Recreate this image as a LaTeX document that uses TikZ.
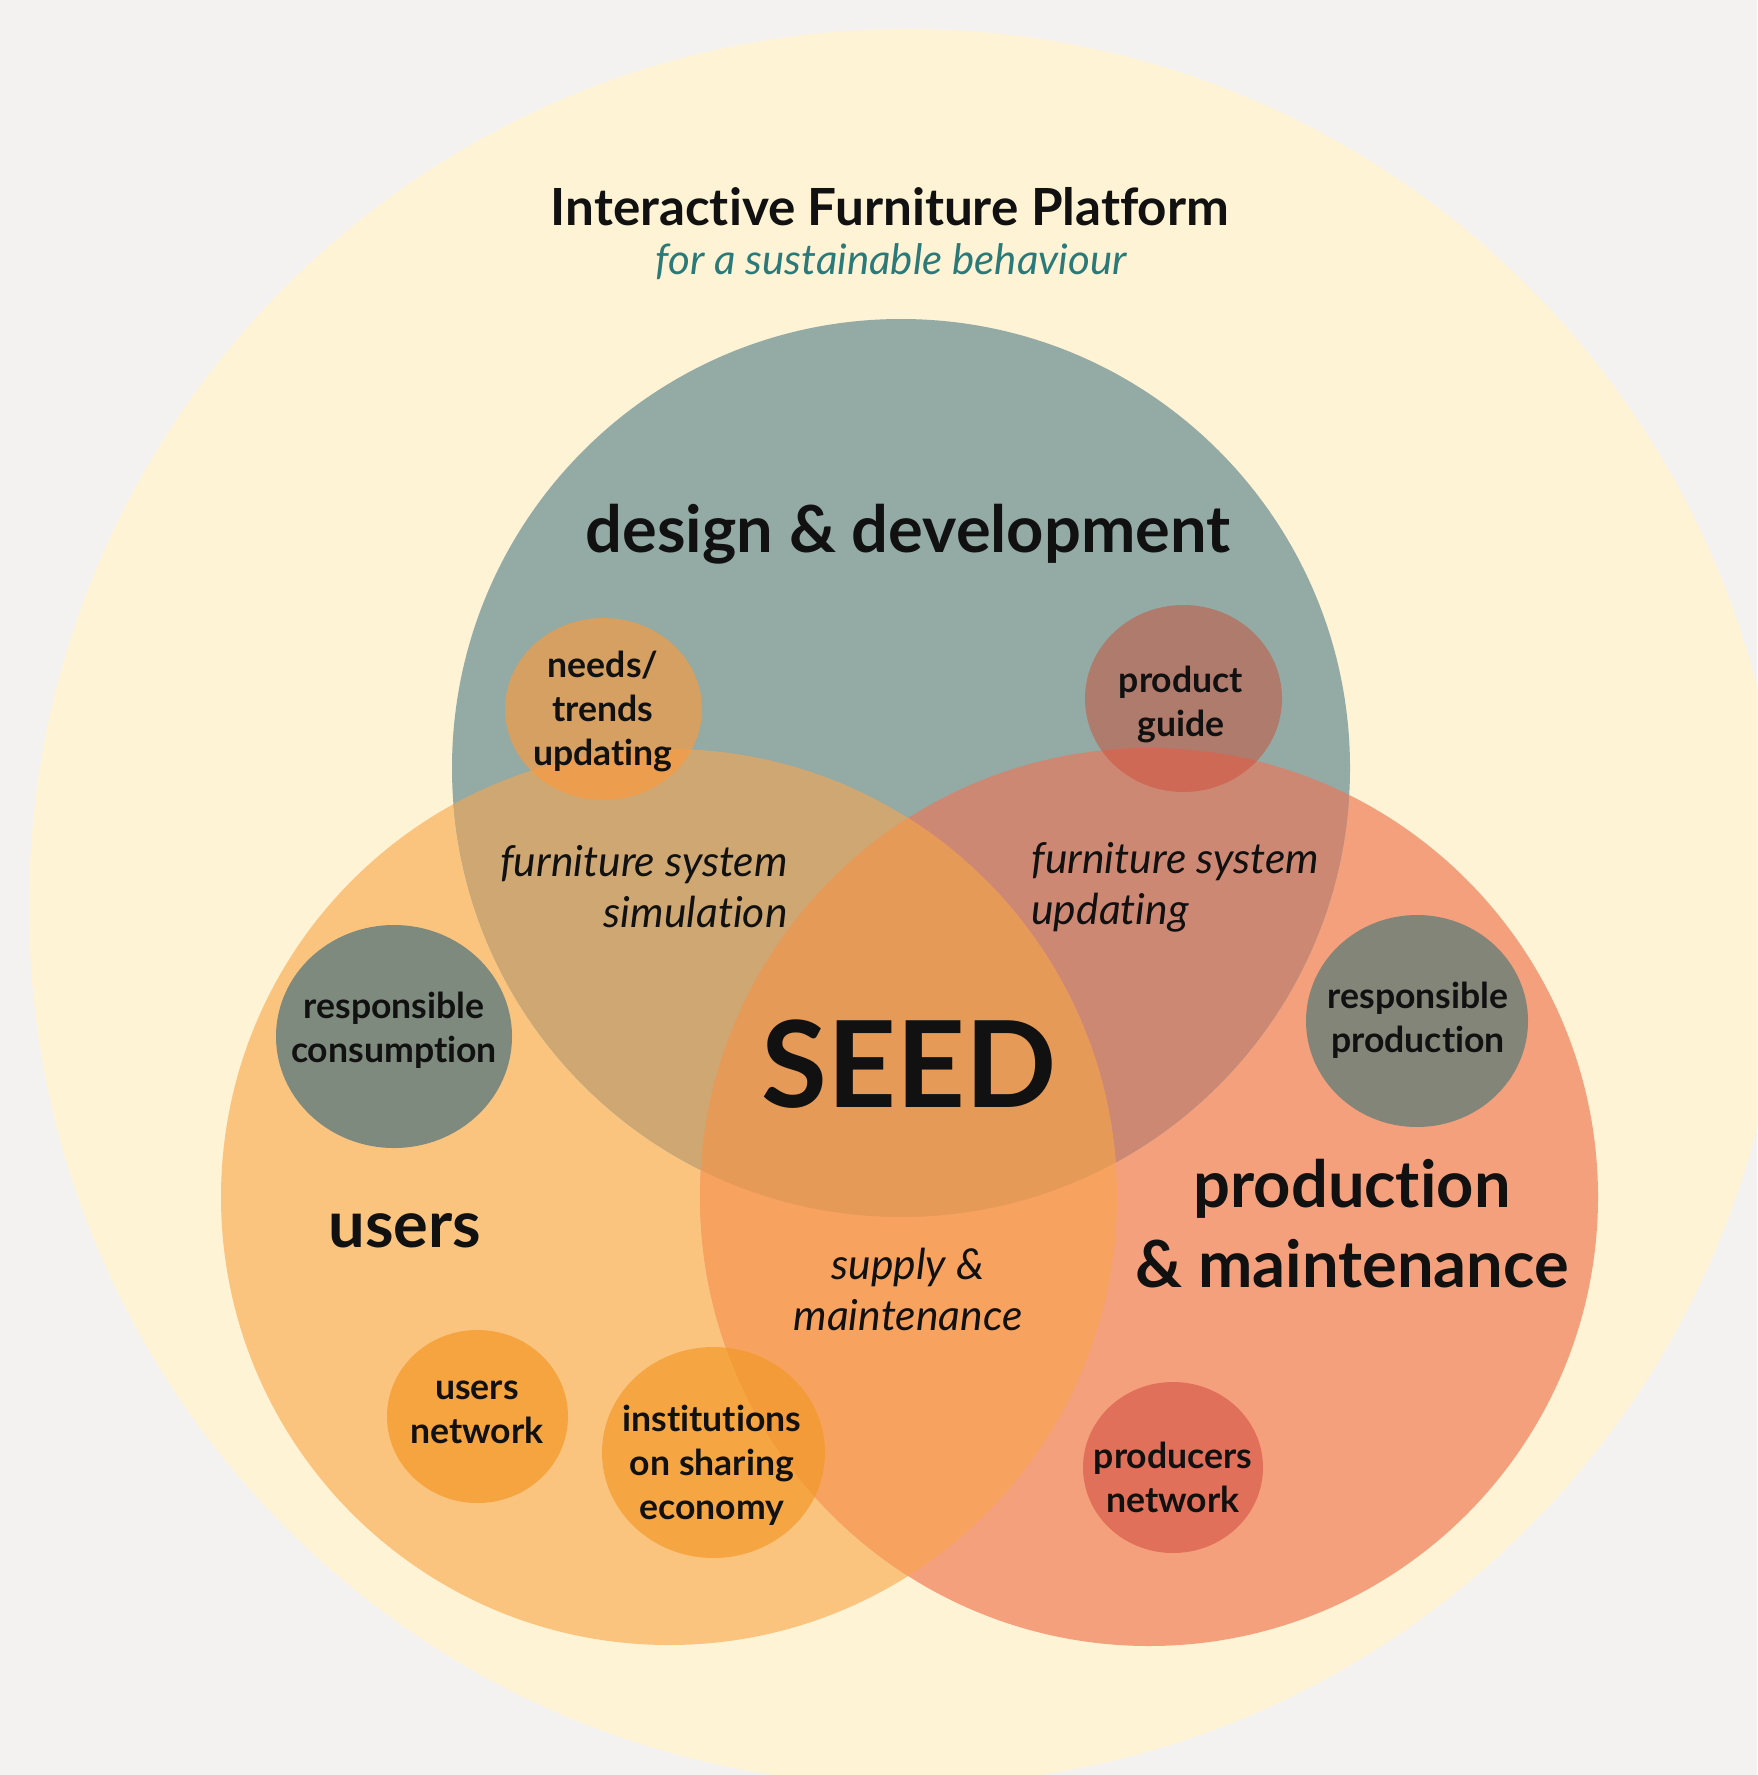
\documentclass[tikz,border=0pt]{standalone}
\usepackage{fontspec}
\setmainfont{Lato}[Ligatures=NoCommon]
\begin{document}
\begin{tikzpicture}[x=0.5pt,y=-0.5pt]
% palette
\definecolor{bg}{HTML}{F3F2F0}
\definecolor{cream}{HTML}{FFF3D6}
\definecolor{teal}{HTML}{93AAA5}
\definecolor{usr}{HTML}{FAC47F}
\definecolor{prod}{HTML}{F5A07C}
\definecolor{tu}{HTML}{CFA772}
\definecolor{tp}{HTML}{CD8874}
\definecolor{up}{HTML}{F7A25F}
\definecolor{tup}{HTML}{E69A58}
\definecolor{needsc}{HTML}{FF9A39}
\definecolor{guidec}{HTML}{CF4832}
\definecolor{instc}{HTML}{F49929}
\definecolor{consc}{HTML}{7D8A7D}
\definecolor{prodc}{HTML}{848579}
\definecolor{unetc}{HTML}{F6A440}
\definecolor{pnetc}{HTML}{E0705A}
\definecolor{ink}{HTML}{111111}
\definecolor{subc}{HTML}{2B7A7A}
\tikzset{
  small/.style={font=\bfseries\fontsize{17.8}{22}\selectfont, align=center, text=ink, inner sep=0pt},
  area/.style={font=\bfseries\fontsize{32.5}{40}\selectfont, align=center, text=ink, inner sep=0pt},
  flow/.style={font=\itshape\fontsize{21.3}{25.5}\selectfont, text=ink, inner sep=0pt},
}
\useasboundingbox (0,0) rectangle (1757,1775);
\clip (0,0) rectangle (1757,1775);
\fill[bg] (0,0) rectangle (1757,1775);
\fill[cream] (907,907) circle [radius=878];

% the three main circles
\def\designpath{(901,768) circle [radius=449]}
\def\userspath{(669,1197) circle [radius=448]}
\def\prodpath{(1149,1197) circle [radius=449]}
\fill[usr] \userspath;
\fill[prod] \prodpath;
\fill[teal] \designpath;
\begin{scope}\clip \designpath; \fill[tu] \userspath; \end{scope}
\begin{scope}\clip \designpath; \fill[tp] \prodpath; \end{scope}
\begin{scope}\clip \userspath; \fill[up] \prodpath; \end{scope}
\begin{scope}\clip \designpath; \clip \userspath; \fill[tup] \prodpath; \end{scope}

% small circles
\fill[needsc, fill opacity=0.62] (603.5,709) ellipse [x radius=98.5, y radius=91];
\fill[guidec, fill opacity=0.48] (1183.5,698.5) ellipse [x radius=98.5, y radius=93.5];
\fill[consc] (394,1036.5) ellipse [x radius=118, y radius=111.5];
\fill[prodc] (1417,1021) ellipse [x radius=111, y radius=106];
\fill[unetc] (477.5,1416.5) ellipse [x radius=90.5, y radius=86.5];
\fill[instc, fill opacity=0.7] (713.5,1452.5) ellipse [x radius=111.5, y radius=105.5];
\fill[pnetc] (1173,1467.5) ellipse [x radius=90, y radius=85.5];

% heading
\node[font=\bfseries\fontsize{25.6}{30}\selectfont, text=ink, inner sep=0pt] (title) at (890,207) {Interactive Furniture Platform};
\node[font=\itshape\fontsize{21}{25}\selectfont, text=subc, inner sep=0pt] (subtitle) at (891,262) {for a sustainable behaviour};

% area labels
\node[area] (design) at (908,534) {design \& development};
\node[area] (users) at (405,1231) {users};
\node[area] (production) at (1352,1224) {production\\\& maintenance};
\node[font=\bfseries\fontsize{60}{70}\selectfont, text=ink, inner sep=0pt] (seed) at (909,1064) {SEED};

% overlap labels
\node[flow, align=right, anchor=east] (simulation) at (788,887) {furniture system\\simulation};
\node[flow, align=left, anchor=west] (updating) at (1031,887) {furniture system\\updating};
\node[flow, align=center] (supply) at (908,1289) {supply \&\\maintenance};

% small circle labels
\node[small] (needs) at (603,711) {needs/\\trends\\updating};
\node[small] (guide) at (1181,704) {product\\guide};
\node[small] (consumption) at (394,1030) {responsible\\consumption};
\node[small] (resprod) at (1418,1020) {responsible\\production};
\node[small] (unet) at (477,1412) {users\\network};
\node[small] (inst) at (712,1465) {institutions\\on sharing\\economy};
\node[small] (pnet) at (1173,1477) {producers\\network};
\end{tikzpicture}
\end{document}
